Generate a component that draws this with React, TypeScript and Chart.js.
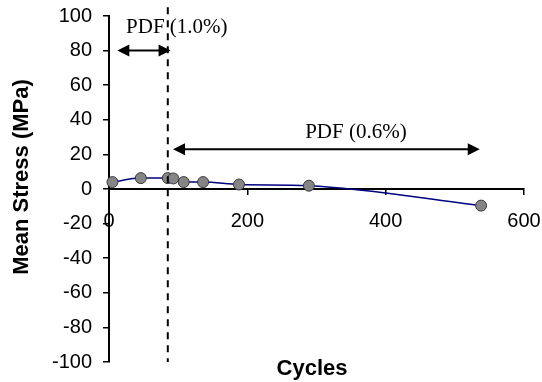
import React, { useEffect, useRef } from "react";
import { Chart, registerables } from "chart.js";
Chart.register(...registerables);

// Data (cycles vs mean stress)
const cycles = [5, 46, 85, 93, 108, 136, 188, 289, 538];
const meanStress = [4, 6.3, 6.3, 6.1, 4, 4, 2.6, 1.9, -9.6];

// Axis ranges / ticks
const xTickValues = [0, 200, 400, 600];
const yTickValues = [-100, -80, -60, -40, -20, 0, 20, 40, 60, 80, 100];

// Annotations (data units)
const pdfBoundary = 85;
const pdf1Label = "PDF (1.0%)";
const pdf1Range = [12, 89];
const pdf1Level = 80;
const pdf1TextPos = [98, 93.5];
const pdf2Label = "PDF (0.6%)";
const pdf2Range = [92.5, 536];
const pdf2Level = 23;
const pdf2TextPos = [357, 32.8];

const xTitle = "Cycles";
const yTitle = "Mean Stress (MPa)";

const SANS = "'Liberation Sans', Arial, sans-serif";
const SERIF = "'Liberation Serif', 'Times New Roman', serif";

function drawArrowHead(ctx: CanvasRenderingContext2D, tipX: number, tipY: number, dir: number) {
  const len = 12;
  const half = 6;
  ctx.beginPath();
  ctx.moveTo(tipX, tipY);
  ctx.lineTo(tipX - dir * len, tipY - half);
  ctx.lineTo(tipX - dir * len, tipY + half);
  ctx.closePath();
  ctx.fill();
}

function drawDoubleArrow(ctx: CanvasRenderingContext2D, x1: number, x2: number, yy: number) {
  ctx.beginPath();
  ctx.moveTo(x1 + 8, yy);
  ctx.lineTo(x2 - 8, yy);
  ctx.stroke();
  drawArrowHead(ctx, x1, yy, -1);
  drawArrowHead(ctx, x2, yy, 1);
}

const annotations = {
  id: "annotations",
  afterDraw(chart: any) {
    const { ctx, scales } = chart;
    const x = scales.x;
    const y = scales.y;
    ctx.save();
    ctx.fillStyle = "#000";
    ctx.strokeStyle = "#000";

    // texts
    ctx.font = `21px ${SERIF}`;
    ctx.textAlign = "center";
    ctx.textBaseline = "middle";
    ctx.fillText(pdf1Label, x.getPixelForValue(pdf1TextPos[0]), y.getPixelForValue(pdf1TextPos[1]));
    ctx.fillText(pdf2Label, x.getPixelForValue(pdf2TextPos[0]), y.getPixelForValue(pdf2TextPos[1]));

    // dashed boundary
    ctx.lineWidth = 2;
    ctx.setLineDash([7, 6]);
    const bx = x.getPixelForValue(pdfBoundary);
    ctx.beginPath();
    ctx.moveTo(bx, y.getPixelForValue(105));
    ctx.lineTo(bx, y.getPixelForValue(-100));
    ctx.stroke();
    ctx.setLineDash([]);

    // arrows
    ctx.lineWidth = 2;
    drawDoubleArrow(ctx, x.getPixelForValue(pdf1Range[0]), x.getPixelForValue(pdf1Range[1]), y.getPixelForValue(pdf1Level));
    drawDoubleArrow(ctx, x.getPixelForValue(pdf2Range[0]), x.getPixelForValue(pdf2Range[1]), y.getPixelForValue(pdf2Level));

    // axis titles
    ctx.font = `bold 22px ${SANS}`;
    ctx.textAlign = "center";
    ctx.textBaseline = "middle";
    ctx.fillText(xTitle, 312, 369);
    ctx.save();
    ctx.translate(22, 177);
    ctx.rotate(-Math.PI / 2);
    ctx.fillText(yTitle, 0, 0);
    ctx.restore();

    ctx.restore();
  },
};

export default function App() {
  const ref = useRef<HTMLCanvasElement | null>(null);
  useEffect(() => {
    if (!ref.current) return;
    const chart = new Chart(ref.current, {
      type: "scatter",
      data: {
        datasets: [
          {
            data: cycles.map((c, i) => ({ x: c, y: meanStress[i] })),
            showLine: true,
            borderColor: "#000080",
            borderWidth: 1.5,
            cubicInterpolationMode: "monotone",
            pointRadius: 5.5,
            pointBackgroundColor: "#858585",
            pointBorderColor: "#3a3a3a",
            pointBorderWidth: 1,
            clip: false as any,
          },
        ],
      },
      options: {
        responsive: false,
        animation: false,
        events: [],
        layout: { padding: { left: 0, top: 16, right: 18, bottom: 20 } },
        plugins: { legend: { display: false }, tooltip: { enabled: false } },
        scales: {
          x: {
            type: "linear",
            min: 0,
            max: 600,
            position: { y: 0 } as any,
            afterBuildTicks: (s: any) => {
              s.ticks = xTickValues.map((v) => ({ value: v }));
            },
            afterFit: (s: any) => {
              s.paddingLeft = 0;
              s.paddingRight = 0;
              s.paddingTop = 0;
              s.paddingBottom = 0;
            },
            ticks: {
              color: "#000",
              font: { family: SANS, size: 20 },
              padding: 15,
              maxRotation: 0,
            },
            grid: { drawOnChartArea: false, drawTicks: true, tickLength: 5, color: "#000", lineWidth: 1.5 },
            border: { display: true, color: "#000", width: 2 },
          },
          y: {
            type: "linear",
            min: -100,
            max: 100,
            position: "left",
            afterBuildTicks: (s: any) => {
              s.ticks = yTickValues.map((v) => ({ value: v }));
            },
            afterFit: (s: any) => {
              s.width = 109;
              s.paddingLeft = 0;
              s.paddingRight = 0;
              s.paddingTop = 0;
              s.paddingBottom = 0;
            },
            ticks: {
              color: "#000",
              font: { family: SANS, size: 20 },
              padding: 11,
            },
            grid: { drawOnChartArea: false, drawTicks: true, tickLength: 6, color: "#000", lineWidth: 1.5 },
            border: { display: true, color: "#000", width: 2 },
          },
        },
      },
      plugins: [annotations],
    });
    return () => chart.destroy();
  }, []);
  return (
    <div style={{ position: "fixed", left: 0, top: 0, width: 542, height: 382, background: "#fff" }}>
      <canvas ref={ref} width={542} height={382} style={{ display: "block" }} />
    </div>
  );
}
